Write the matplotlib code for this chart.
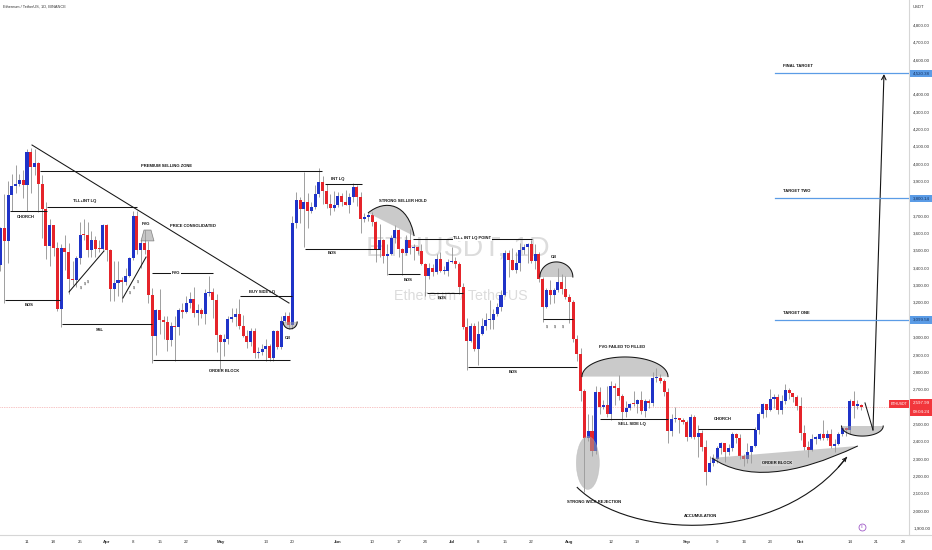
import numpy as np
import pandas as pd
import matplotlib
matplotlib.use('Agg')
import matplotlib.pyplot as plt
from matplotlib.path import Path
from matplotlib.patches import PathPatch, Ellipse, Rectangle, Polygon
from matplotlib.lines import Line2D
from matplotlib import font_manager as fm

avail = {f.name for f in fm.fontManager.ttflist}
if 'Liberation Sans Narrow' in avail:
    FONT, FS = 'Liberation Sans Narrow', 1.0
else:
    FONT, FS = 'Liberation Sans', 0.82
plt.rcParams['font.family'] = [FONT, 'DejaVu Sans']

# ---------------- data: ETHUSDT daily candles, 2024-03-04 .. 2024-10-17 ----------------
start_date = '2024-03-04'
opens = [
    # Mar
    3419,3630,3553,3818,3869,3885,3909,3880,4069,3980,4005,3882,3738,3523,3646,3517,3160,3515,3493,3336,3331,3455,3590,3587,3500,3560,3510,3506,
    # Apr
    3647,3505,3278,3313,3330,3317,3352,3455,3696,3505,3545,3503,3243,3008,3156,3101,3085,2985,3065,3056,3155,3148,3200,3220,3140,3157,3131,3255,3263,3215,
    # May
    3014,2970,2990,3103,3117,3136,3064,3005,2974,3036,2910,2912,2930,2950,2881,3035,2944,3093,3122,3072,3660,3790,3740,3780,3730,3750,3825,3893,3843,3766,3747,
    # Jun
    3760,3815,3780,3765,3810,3865,3810,3680,3695,3705,3665,3500,3560,3470,3480,3570,3620,3510,3485,3560,3515,3520,3495,3420,3350,3400,3375,3450,3380,3380,
    # Jul
    3435,3440,3420,3290,3057,2980,3067,2930,3020,3065,3100,3100,3135,3175,3245,3485,3445,3390,3425,3505,3518,3535,3440,3480,3337,3175,3275,3245,3270,3320,3280,
    # Aug
    3230,3205,2990,2905,2690,2420,2460,2345,2685,2600,2610,2555,2720,2705,2660,2570,2592,2615,2612,2636,2572,2630,2622,2765,2766,2747,2682,2457,2528,2530,2525,
    # Sep
    2513,2425,2538,2423,2450,2368,2222,2273,2296,2360,2388,2340,2361,2440,2418,2316,2295,2340,2370,2465,2560,2612,2581,2646,2653,2578,2632,2695,2677,2657,
    # Oct
    2602,2447,2365,2350,2415,2415,2440,2420,2440,2370,2385,2440,2475,2465,2630,2605,2610,
]
highs = [
    3637,3823,3900,3940,3995,3940,3962,4087,4093,4083,4011,3936,3781,3680,3647,3548,3540,3588,3545,3440,3470,3665,3680,3665,3610,3585,3560,3655,
    3650,3508,3440,3440,3345,3400,3460,3730,3728,3560,3620,3553,3285,3160,3280,3125,3125,3090,3125,3170,3200,3240,3260,3290,3190,3170,3280,3355,3285,3250,
    3020,3020,3125,3170,3170,3220,3130,3040,3055,3055,2945,2960,2990,2960,3040,3040,3120,3145,3145,3700,3840,3810,3950,3832,3780,3875,3975,3930,3885,3825,3845,
    3835,3830,3850,3830,3888,3880,3840,3715,3720,3720,3670,3655,3565,3535,3590,3645,3625,3515,3590,3625,3535,3525,3535,3425,3430,3420,3480,3490,3410,3450,
    3520,3465,3435,3310,3110,3080,3080,3095,3110,3140,3215,3160,3200,3275,3500,3500,3515,3490,3545,3540,3545,3560,3540,3490,3345,3285,3330,3285,3400,3365,3350,
    3250,3215,3015,2935,2700,2555,2550,2720,2710,2640,2720,2745,2735,2780,2675,2630,2620,2690,2645,2690,2645,2645,2800,2820,2790,2760,2705,2560,2600,2535,2535,
    2520,2555,2550,2495,2465,2410,2315,2325,2375,2395,2390,2385,2455,2445,2440,2325,2390,2375,2485,2570,2620,2615,2700,2670,2670,2665,2730,2705,2680,2665,
    2655,2495,2400,2440,2430,2450,2520,2465,2470,2415,2455,2480,2485,2645,2690,2640,2615,
]
lows = [
    3380,3200,3425,3728,3829,3870,3800,3728,3830,3936,3720,3570,3450,3410,3470,3150,3060,3390,3250,3300,3290,3420,3560,3460,3465,3465,3490,3500,
    3440,3210,3210,3240,3205,3300,3345,3445,3480,3400,3480,3200,2852,2900,3020,2990,2920,2950,2865,3015,3110,3140,3170,3115,3070,3110,3075,3240,3110,2915,
    2815,2890,2960,3090,3065,3045,3000,2940,2950,2880,2880,2900,2865,2860,2863,2930,2930,3090,3050,3050,3630,3660,3520,3630,3715,3740,3810,3770,3745,3705,3725,
    3752,3755,3760,3715,3780,3755,3600,3665,3670,3640,3435,3460,3430,3360,3475,3545,3460,3360,3475,3480,3445,3480,3415,3240,3335,3355,3365,3375,3365,3350,
    3425,3400,3250,3050,2810,2970,2920,2840,3015,3040,3050,3050,3120,3150,3235,3345,3385,3370,3380,3480,3425,3425,3395,3320,3090,3170,3190,3200,3260,3250,3220,
    3080,2975,2860,2630,2110,2400,2315,2325,2555,2585,2540,2520,2610,2640,2520,2540,2580,2605,2565,2560,2540,2590,2605,2740,2735,2660,2390,2430,2510,2445,2500,
    2400,2420,2415,2310,2345,2150,2220,2255,2275,2325,2280,2320,2345,2390,2300,2255,2275,2275,2365,2440,2535,2540,2575,2590,2555,2555,2615,2645,2625,2580,
    2410,2350,2310,2345,2385,2405,2410,2410,2360,2340,2380,2430,2430,2440,2535,2585,2580,
]
closes = [
    3630,3553,3818,3869,3885,3909,3880,4069,3980,4005,3882,3738,3523,3646,3517,3160,3515,3493,3336,3331,3455,3590,3587,3500,3560,3510,3506,3647,
    3505,3278,3313,3330,3317,3352,3455,3696,3505,3545,3503,3243,3008,3156,3101,3085,2985,3065,3056,3155,3148,3200,3220,3140,3157,3131,3255,3263,3215,3014,
    2970,2990,3103,3117,3136,3064,3005,2974,3036,2910,2912,2930,2950,2881,3035,2944,3093,3122,3072,3660,3790,3740,3780,3730,3750,3825,3893,3843,3766,3747,3760,
    3815,3780,3765,3810,3865,3810,3680,3695,3705,3665,3500,3560,3470,3480,3570,3620,3510,3485,3560,3515,3520,3495,3420,3350,3400,3375,3450,3380,3380,3435,
    3440,3420,3290,3057,2980,3067,2930,3020,3065,3100,3100,3135,3175,3245,3485,3445,3390,3425,3505,3518,3535,3440,3480,3337,3175,3275,3245,3270,3320,3280,3230,
    3205,2990,2905,2690,2420,2460,2345,2685,2600,2610,2555,2720,2705,2660,2570,2592,2615,2612,2636,2572,2630,2622,2765,2766,2747,2682,2457,2528,2530,2525,2513,
    2425,2538,2423,2450,2368,2222,2273,2296,2360,2388,2340,2361,2440,2418,2316,2295,2340,2370,2465,2560,2612,2581,2646,2653,2578,2632,2695,2677,2657,2602,
    2447,2365,2350,2415,2415,2440,2420,2440,2370,2385,2440,2475,2465,2630,2605,2610,2598,
]
last_price = 2597.99
last_price_label = '2,597.99'
countdown = '09:04:24'

# x axis ticks
ref_date = pd.Timestamp('2024-03-11')
tick_dates = ['2024-03-11','2024-03-18','2024-03-25','2024-04-01','2024-04-08','2024-04-15','2024-04-22',
              '2024-05-01','2024-05-13','2024-05-20','2024-06-01','2024-06-10','2024-06-17','2024-06-24',
              '2024-07-01','2024-07-08','2024-07-15','2024-07-22','2024-08-01','2024-08-12','2024-08-19',
              '2024-09-01','2024-09-09','2024-09-16','2024-09-23','2024-10-01','2024-10-14','2024-10-21','2024-10-28']
tick_labels = ['11','18','25','Apr','8','15','22','May','13','20','Jun','10','17','24','Jul','8','15','22',
               'Aug','12','19','Sep','9','16','23','Oct','14','21','28']
month_labels = {'Apr','May','Jun','Jul','Aug','Sep','Oct'}

# price scale
price_ticks = [v for v in range(1900, 4900, 100) if v not in (4500, 3800, 3100, 2600)]
targets = [4520.38, 3800.14, 3099.58]
target_labels = ['4,520.38', '3,800.14', '3,099.58']
target_names = ['FINAL TARGET', 'TARGET TWO', 'TARGET ONE']

# annotation drawings (x in days from 2024-03-11, y in price)
hlines = [
    (3958, 3.43, 77.8), (3508, 73.3, 93.1), (3728, -4.48, 5.27), (3751, 5.27, 29.0),
    (3214, -5.8, 8.7), (3076, 9.23, 32.9), (3370, 33.0, 49.05), (3238, 56.2, 69.9),
    (2869, 33.2, 69.4), (3883, 78.6, 88.3), (3364, 95.2, 103.6), (3566, 101.8, 133.2),
    (3255, 105.5, 115.0), (3105, 136.1, 144.0), (2828, 116.3, 145.0), (2528, 151.1, 169.0),
    (2471, 177.0, 192.0),
]
segments = [((1.32, 4108), (69.09, 3197)), ((11.08, 3261), (20.3, 3497)), ((25.3, 3226), (31.4, 3462)),
            ((221.0, 2621), (223.1, 2465))]
labels = [
    ('PREMIUM SELLING ZONE', 36.9, 3987, False), ('CHORCH', -0.26, 3693, False),
    ('TLL+INT LQ', 15.3, 3785, False), ('BOS', 0.53, 3186, False), ('SSL', 19.25, 3042, False),
    ('FVG', 31.4, 3653, False), ('PRICE CONSOLIDATED', 43.8, 3641, False), ('FVG', 39.3, 3370, True),
    ('BUY SIDE LQ', 62.0, 3261, False), ('ORDER BLOCK', 51.95, 2805, False), ('OB', 68.8, 2995, False),
    ('INT LQ', 82.0, 3912, False), ('STRONG SELLER HOLD', 99.2, 3785, False), ('BOS', 80.4, 3485, False),
    ('BOS', 100.5, 3330, False), ('TLL+ INT LQ POINT', 117.4, 3570, True), ('BOS', 109.4, 3226, False),
    ('OB', 139.0, 3462, False), ('BOS', 128.2, 2799, False), ('FVG FAILED TO FILLED', 156.9, 2944, False),
    ('SELL SIDE LQ', 159.5, 2500, False), ('STRONG WICK REJECTION', 149.5, 2050, False),
    ('CHORCH', 183.5, 2528, False), ('ORDER BLOCK', 197.8, 2275, True), ('ACCUMULATION', 177.5, 1969, False),
]
dollar_marks = [(14.24, 3289), (15.3, 3307), (16.1, 3324), (27.2, 3255), (28.2, 3284), (29.3, 3324),
                (137.1, 3059), (139.2, 3059), (141.3, 3059)]
# half ellipses: (center x, base y, half width, height, direction)
domes = [(69.4, 3088, 1.85, 40, -1), (139.6, 3347, 4.35, 87, 1), (157.7, 2773, 11.34, 113, 1),
         (220.3, 2488, 5.5, 58, -1)]

BLUE = '#1f33c8'
RED = '#e5242a'
WICK = '#8f8f8f'
INK = '#151515'
SHADE = '#a0a0a0'
TBLUE = '#5b9ce6'

fig = plt.figure(figsize=(9.32, 5.5), dpi=100)
ax = fig.add_axes([0, 15 / 550, 909 / 932, 535 / 550])
ax.set_xlim(-7.12, 232.6)
ax.set_ylim(1859.6, 4944.1)
ax.set_facecolor('white')
for s in ['top', 'left', 'bottom']:
    ax.spines[s].set_visible(False)
ax.spines['right'].set_color('#d6d6d6')
ax.spines['right'].set_linewidth(0.8)
fig.add_artist(Line2D([0, 1], [15 / 550, 15 / 550], transform=fig.transFigure, color='#d6d6d6', lw=0.8))

# watermark (behind everything)
ax.text(113.7, 3509, 'ETHUSDT, 1D', fontsize=25 * FS, color='#dcdcdc', ha='center', va='center', zorder=0.5)
ax.text(114.5, 3238, 'Ethereum / TetherUS', fontsize=12.5 * FS, color='#dcdcdc', ha='center', va='center', zorder=0.5)

# candles
dates = pd.date_range(start_date, periods=len(closes), freq='D')
xd = (dates - ref_date).days.values.astype(float)
o = np.array(opens, float); h = np.array(highs, float)
l = np.array(lows, float); c = np.array(closes, float)
cols = np.where(c >= o, BLUE, RED)
ax.vlines(xd, l, h, color=WICK, lw=0.6, zorder=2)
ax.bar(xd, np.maximum(np.abs(c - o), 7), bottom=np.minimum(o, c), width=0.8, color=cols, lw=0, zorder=3)

# last price line
ax.axhline(last_price, color='#f08a8a', lw=0.5, ls=(0, (1, 1.5)), zorder=1)

# annotation lines
for y, x0, x1 in hlines:
    ax.plot([x0, x1], [y, y], color=INK, lw=0.75, zorder=5, solid_capstyle='butt')
for (x0, y0), (x1, y1) in segments:
    ax.plot([x0, x1], [y0, y1], color=INK, lw=0.75, zorder=5)

# domes / bowls
for cx, base, a, b, sgn in domes:
    t = np.linspace(0, np.pi, 80)
    xs = cx + a * np.cos(t)
    ys = base + sgn * b * np.sin(t)
    ax.fill(xs, ys, color=SHADE, alpha=0.55, lw=0, zorder=4)
    ax.plot(xs, ys, color=INK, lw=0.75, zorder=5)

# FVG trapezoid
ax.add_patch(Polygon([(30.06, 3555), (30.85, 3618), (32.7, 3618), (33.5, 3555)], closed=True,
                     fc=SHADE, alpha=0.6, ec='#444', lw=0.5, zorder=4))

# strong seller hold
ssh = [(89.93, 3716), (94.41, 3797), (100.5, 3774), (102.1, 3583)]
ax.add_patch(PathPatch(Path(ssh + [ssh[0]], [Path.MOVETO, Path.CURVE4, Path.CURVE4, Path.CURVE4, Path.CLOSEPOLY]),
                       fc=SHADE, alpha=0.55, lw=0, zorder=4))
ax.add_patch(PathPatch(Path(ssh, [Path.MOVETO, Path.CURVE4, Path.CURVE4, Path.CURVE4]),
                       fill=False, ec=INK, lw=0.75, zorder=5))

# order block (right)
obr = [(180.6, 2304), (193.6, 2108), (219.1, 2373)]
ax.add_patch(PathPatch(Path(obr + [obr[0]], [Path.MOVETO, Path.CURVE3, Path.CURVE3, Path.CLOSEPOLY]),
                       fc=SHADE, alpha=0.55, lw=0, zorder=4))
ax.add_patch(PathPatch(Path(obr, [Path.MOVETO, Path.CURVE3, Path.CURVE3]), fill=False, ec=INK, lw=0.75, zorder=5))

# strong wick rejection ellipse
ax.add_patch(Ellipse((147.9, 2275), 6.07, 305.6, fc=SHADE, alpha=0.55, ec='#b0b0b0', lw=0.4, zorder=4))

# accumulation arc with arrow
acc = np.array([(145.0, 2136), (159.0, 1831), (198.6, 1802), (216.2, 2309)])
ax.add_patch(PathPatch(Path(acc, [Path.MOVETO, Path.CURVE4, Path.CURVE4, Path.CURVE4]),
                       fill=False, ec=INK, lw=0.8, zorder=5))
tt = 0.96
pb = ((1 - tt) ** 3) * acc[0] + 3 * tt * (1 - tt) ** 2 * acc[1] + 3 * tt ** 2 * (1 - tt) * acc[2] + tt ** 3 * acc[3]
ax.annotate('', xy=tuple(acc[3]), xytext=tuple(pb),
            arrowprops=dict(arrowstyle='->', color=INK, lw=0.8, mutation_scale=6, shrinkA=0, shrinkB=0), zorder=5)

# final projection arrow
ax.annotate('', xy=(226.0, 4517), xytext=(223.1, 2465),
            arrowprops=dict(arrowstyle='->', color=INK, lw=0.8, mutation_scale=8, shrinkA=0, shrinkB=0), zorder=5)

# targets
for tp, tn in zip(targets, target_names):
    ax.plot([197.3, 232.6], [tp, tp], color=TBLUE, lw=0.9, zorder=5)
    ax.text(199.4, tp + 42, tn, fontsize=3.6 * FS, fontweight='bold', color=INK, ha='left', va='center', zorder=6)

# labels
for s, x, y, bg in labels:
    kw = {}
    if bg:
        kw['bbox'] = dict(facecolor='white' if s != 'ORDER BLOCK' else '#d4d4d4', edgecolor='none', pad=0.4)
    ax.text(x, y, s, fontsize=3.6 * FS, fontweight='bold', color=INK, ha='center', va='center', zorder=6, **kw)
for x, y in dollar_marks:
    ax.text(x, y, '$', fontsize=3.2 * FS, color='#333', ha='center', va='center', zorder=6)

# event icon
ax.plot([220.2], [1906], 'o', ms=5, mfc='white', mec='#a05bc8', mew=0.6, zorder=6, clip_on=False)
ax.text(220.2, 1906, 'E', fontsize=2.8 * FS, color='#a05bc8', ha='center', va='center', zorder=7)

# x axis
tick_x = (pd.to_datetime(tick_dates) - ref_date).days.values
ax.set_xticks(tick_x)
ax.set_xticklabels(tick_labels)
ax.tick_params(axis='x', length=0, pad=3.5, labelsize=3.8 * FS, labelcolor='#333')
for tl in ax.get_xticklabels():
    if tl.get_text() in month_labels:
        tl.set_fontweight('bold')

# y axis (right)
ax.yaxis.tick_right()
ax.set_yticks(price_ticks)
ax.set_yticklabels([f'{v:,.2f}' for v in price_ticks])
ax.tick_params(axis='y', length=0, pad=3, labelsize=3.8 * FS, labelcolor='#333')

ytr = ax.get_yaxis_transform()
for tp, tl in zip(targets, target_labels):
    ax.add_patch(Rectangle((1.001, tp - 22), 0.0255, 44, transform=ytr, fc=TBLUE, ec='none', clip_on=False, zorder=6))
    ax.text(1.0045, tp, tl, transform=ytr, fontsize=3.8 * FS, color='#13305e', ha='left', va='center',
            clip_on=False, zorder=7)
ax.add_patch(Rectangle((1.001, 2548), 0.0255, 96, transform=ytr, fc='#f2363c', ec='none', clip_on=False, zorder=6))
ax.text(1.0045, 2624, last_price_label, transform=ytr, fontsize=3.8 * FS, color='white', ha='left', va='center',
        clip_on=False, zorder=7)
ax.text(1.0045, 2570, countdown, transform=ytr, fontsize=3.8 * FS, color='white', ha='left', va='center',
        clip_on=False, zorder=7)
ax.add_patch(Rectangle((0.978, 2592), 0.022, 48, transform=ytr, fc='#f2363c', ec='none', clip_on=False, zorder=6))
ax.text(0.989, 2616, 'ETHUSDT', transform=ytr, fontsize=3.2 * FS, color='white', ha='center', va='center',
        clip_on=False, zorder=7)

fig.text(3 / 932, 1 - 7 / 550, 'Ethereum / TetherUS, 1D, BINANCE', fontsize=3.4 * FS, color='#333', ha='left', va='center')
fig.text(913 / 932, 1 - 7 / 550, 'USDT', fontsize=3.6 * FS, color='#333', ha='left', va='center')

fig.savefig('out.png', dpi=100, facecolor='white')
